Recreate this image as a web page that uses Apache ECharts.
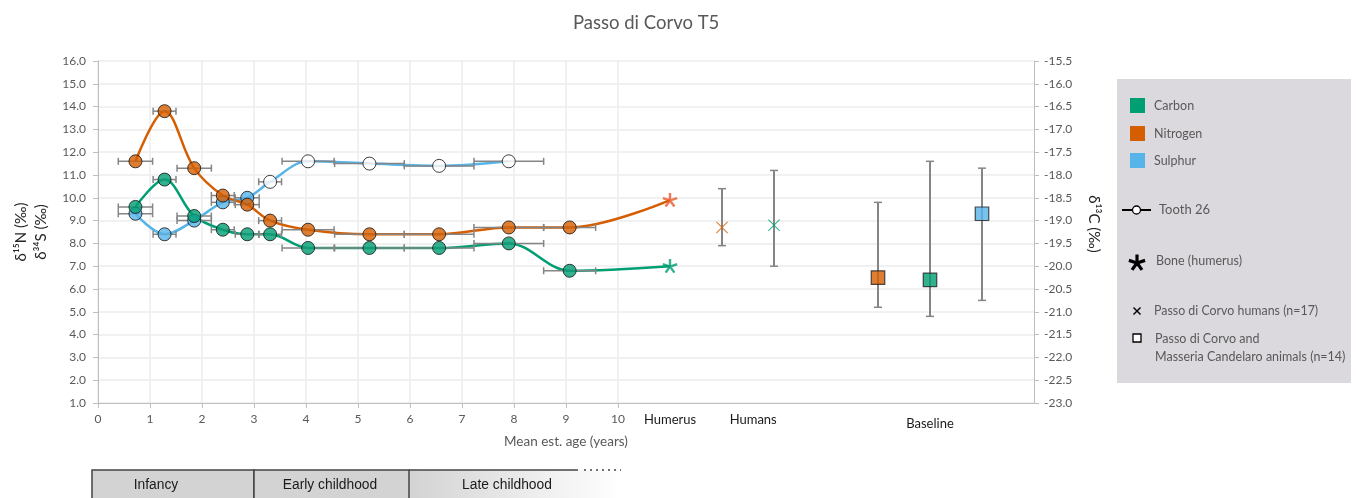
<!DOCTYPE html>
<html><head><meta charset="utf-8">
<script src="https://cdn.jsdelivr.net/npm/echarts@6/dist/echarts.min.js"></script>
<style>html,body{margin:0;padding:0;background:#fff}#c{width:1356px;height:498px}</style>
</head><body><div id="c"></div>
<script>
// ---- data ----
const ages    = [0.72, 1.28, 1.85, 2.40, 2.87, 3.31, 4.04, 5.22, 6.56, 7.90, 9.07];
const ageErr  = [0.33, 0.22, 0.33, 0.22, 0.23, 0.22, 0.50, 0.67, 0.67, 0.67, 0.50];
const nitrogen = [11.6, 13.8, 11.3, 10.1, 9.7, 9.0, 8.6, 8.4, 8.4, 8.7, 8.7];
const carbon   = [-18.7, -18.1, -18.9, -19.2, -19.3, -19.3, -19.6, -19.6, -19.6, -19.5, -20.1];
const sulphur  = [9.3, 8.4, 9.0, 9.8, 10.0, 10.7, 11.6, 11.5, 11.4, 11.6];
const tooth26From = 5; // sulphur points from this index belong to tooth 26
const humerusX = 11;
const humerusN = 9.9;
const humerusC = -20.0;
// humans: [x, mean, low, high]
const humansN = [12, 8.7, 7.9, 10.4];
const humansC = [13, -19.1, -20.0, -17.9];
// baseline animals: [x, mean, low, high]
const baseN = [15, 6.5, 5.2, 9.8];
const baseC = [16, -20.3, -21.1, -17.7];
const baseS = [17, 9.3, 5.5, 11.3];
const xLabelValues = [0,1,2,3,4,5,6,7,8,9,10,11,12.6,16];
const xLabelNames = {11:'Humerus', 12.6:'Humans', 16:'Baseline'};
const stages = ['Infancy', 'Early childhood', 'Late childhood'];

// ---- styles ----
const cC = '#009e73', cN = '#d55e00', cS = '#56b4e9', cStarN = '#e8572a';
const grey = '#595959', errCol = '#858585';
const FONT = 'Lato, "Noto Sans", sans-serif';

function armsPolys(arms, len, w, rot, cx, cy) {
  const polys = [];
  for (let k = 0; k < arms; k++) {
    const a = rot + k * 2 * Math.PI / arms;
    const ux = Math.sin(a), uy = -Math.cos(a);
    const px = Math.cos(a), py = Math.sin(a);
    polys.push([[px*w/2, py*w/2], [px*w/2+ux*len, py*w/2+uy*len], [-px*w/2+ux*len, -py*w/2+uy*len], [-px*w/2, -py*w/2]]
      .map(p => [p[0] + cx, p[1] + cy]));
  }
  return polys;
}
function polysToPath(polys) {
  return 'path://' + polys.map(pts => 'M' + pts.map(p => p[0].toFixed(2) + ' ' + p[1].toFixed(2)).join('L') + 'Z').join('');
}
const starSym = polysToPath(armsPolys(5, 10, 3.2, 0, 20, 20));
const crossSym = polysToPath(armsPolys(4, 10, 1.3, Math.PI/4, 20, 20));

function hErr(vals, yIdx) {
  return {
    type: 'custom', yAxisIndex: yIdx, z: 3, silent: true,
    encode: {x: 0, y: 1},
    data: vals.map((v, i) => [ages[i], v, ageErr[i]]),
    renderItem(params, api) {
      const x = api.value(0), y = api.value(1), e = api.value(2);
      const p1 = api.coord([x - e, y]), p2 = api.coord([x + e, y]);
      const st = {stroke: errCol, lineWidth: 1.5};
      return {type: 'group', children: [
        {type: 'line', shape: {x1: p1[0], y1: p1[1], x2: p2[0], y2: p2[1]}, style: st},
        {type: 'line', shape: {x1: p1[0], y1: p1[1]-3.5, x2: p1[0], y2: p1[1]+3.5}, style: st},
        {type: 'line', shape: {x1: p2[0], y1: p2[1]-3.5, x2: p2[0], y2: p2[1]+3.5}, style: st}
      ]};
    }
  };
}
function vErr(rows, yIdx) {
  return {
    type: 'custom', yAxisIndex: yIdx, z: 3, silent: true,
    encode: {x: 0, y: 1},
    data: rows,
    renderItem(params, api) {
      const x = api.value(0);
      const p1 = api.coord([x, api.value(2)]), p2 = api.coord([x, api.value(3)]);
      const st = {stroke: errCol, lineWidth: 2};
      return {type: 'group', children: [
        {type: 'line', shape: {x1: p1[0], y1: p1[1], x2: p2[0], y2: p2[1]}, style: st},
        {type: 'line', shape: {x1: p1[0]-4, y1: p1[1], x2: p1[0]+4, y2: p1[1]}, style: {stroke: errCol, lineWidth: 1.5}},
        {type: 'line', shape: {x1: p2[0]-4, y1: p2[1], x2: p2[0]+4, y2: p2[1]}, style: {stroke: errCol, lineWidth: 1.5}}
      ]};
    }
  };
}
function lineS(vals, extra, col, yIdx) {
  const data = vals.map((v, i) => [ages[i], v]);
  if (extra !== null) data.push([humerusX, extra]);
  return {type: 'line', yAxisIndex: yIdx, z: 2, smooth: 0.35, symbol: 'none', silent: true,
    lineStyle: {color: col, width: 2.5}, data};
}
function dots(vals, col, yIdx, whiteFrom) {
  return {type: 'scatter', yAxisIndex: yIdx, z: 5, silent: true, symbol: 'circle', symbolSize: 13,
    data: vals.map((v, i) => ({value: [ages[i], v],
      itemStyle: {color: (whiteFrom !== undefined && i >= whiteFrom) ? '#ffffff' : col, borderColor: '#111', borderWidth: 1}}))};
}
function star(x, v, col, yIdx) {
  return {type: 'scatter', yAxisIndex: yIdx, z: 5, silent: true, symbol: starSym, symbolSize: 15,
    symbolKeepAspect: true, itemStyle: {color: col}, data: [[x, v]]};
}
function cross(row, col, yIdx) {
  return {type: 'scatter', yAxisIndex: yIdx, z: 5, silent: true, symbol: crossSym, symbolSize: 12,
    itemStyle: {color: col}, data: [[row[0], row[1]]]};
}
function square(row, col, yIdx) {
  return {type: 'scatter', yAxisIndex: yIdx, z: 5, silent: true, symbol: 'rect', symbolSize: 13.5,
    itemStyle: {color: col, borderColor: '#222', borderWidth: 1.2}, data: [[row[0], row[1]]]};
}

const txt = (text, x, y, size) => ({type: 'text', x, y,
  style: {text, fill: grey, font: size + 'px ' + FONT, verticalAlign: 'middle'}});

const legendEls = [
  {type: 'rect', shape: {x: 1117, y: 79, width: 234, height: 304}, style: {fill: '#dbd9de'}},
  {type: 'rect', shape: {x: 1130, y: 98, width: 15, height: 15}, style: {fill: cC}},
  {type: 'rect', shape: {x: 1130, y: 126, width: 15, height: 15}, style: {fill: cN}},
  {type: 'rect', shape: {x: 1130, y: 153, width: 15, height: 15}, style: {fill: cS}},
  txt('Carbon', 1154, 105.5, 12.5),
  txt('Nitrogen', 1154, 133.5, 12.5),
  txt('Sulphur', 1154, 160.5, 12.5),
  {type: 'line', shape: {x1: 1122, y1: 210, x2: 1151, y2: 210}, style: {stroke: '#000', lineWidth: 2}},
  {type: 'circle', shape: {cx: 1136.5, cy: 210, r: 4}, style: {fill: '#fff', stroke: '#000', lineWidth: 1.3}},
  txt('Tooth 26', 1159, 210, 13),
  ...armsPolys(5, 8.5, 3.2, 0, 1137, 263).map(p => ({type: 'polygon', shape: {points: p}, style: {fill: '#000'}})),
  txt('Bone (humerus)', 1156, 261, 12.5),
  ...armsPolys(4, 5, 1.4, Math.PI/4, 1137, 311).map(p => ({type: 'polygon', shape: {points: p}, style: {fill: '#000'}})),
  txt('Passo di Corvo humans (n=17)', 1154, 311, 12.4),
  {type: 'rect', shape: {x: 1133, y: 334, width: 8, height: 8}, style: {fill: '#fff', stroke: '#000', lineWidth: 1.3}},
  txt('Passo di Corvo and', 1155, 339, 12.5),
  txt('Masseria Candelaro animals (n=14)', 1155, 357, 12.5)
];
const tlFont = '13.8px "Liberation Sans", Arial, sans-serif';
const tlText = (text, x) => ({type: 'text', x, y: 485.5, style: {text, fill: '#1a1a1a', font: tlFont, align: 'center', verticalAlign: 'middle'}});
const timelineEls = [
  {type: 'rect', shape: {x: 409, y: 470, width: 212, height: 30},
    style: {fill: new echarts.graphic.LinearGradient(0, 0, 1, 0, [{offset: 0, color: '#d3d3d3'}, {offset: 1, color: '#ffffff'}])}},
  {type: 'rect', shape: {x: 92, y: 470, width: 162, height: 32}, style: {fill: '#d3d3d3', stroke: '#444', lineWidth: 1.5}},
  {type: 'rect', shape: {x: 254, y: 470, width: 155, height: 32}, style: {fill: '#d3d3d3', stroke: '#444', lineWidth: 1.5}},
  {type: 'line', shape: {x1: 409, y1: 470, x2: 578, y2: 470}, style: {stroke: '#444', lineWidth: 1.5}},
  {type: 'line', shape: {x1: 584, y1: 470, x2: 621, y2: 470}, style: {stroke: '#444', lineWidth: 1.5, lineDash: [2, 4]}},
  tlText(stages[0], 156), tlText(stages[1], 330), tlText(stages[2], 507)
];

const chart = echarts.init(document.getElementById('c'), null, {renderer: 'canvas'});
chart.setOption({
  animation: false,
  backgroundColor: '#fff',
  title: {text: 'Passo di Corvo T5', left: 568, top: 9,
    textStyle: {fontFamily: FONT, fontSize: 18.5, fontWeight: 'normal', color: grey}},
  grid: {left: 98, top: 61, right: 322, bottom: 95, containLabel: false, outerBoundsMode: 'none'},
  xAxis: {
    type: 'value', min: 0, max: 18, interval: 1,
    name: 'Mean est. age (years)', nameLocation: 'middle', nameGap: 30,
    nameTextStyle: {fontFamily: FONT, fontSize: 13.5, color: grey},
    axisLine: {lineStyle: {color: '#bfbfbf', width: 1}},
    axisTick: {show: true, customValues: [0,1,2,3,4,5,6,7,8,9,10], length: 5, lineStyle: {color: '#bfbfbf'}},
    splitLine: {show: true, lineStyle: {color: '#ececec', width: 1.5}},
    axisLabel: {
      customValues: xLabelValues, margin: 10,
      formatter: v => xLabelNames[v] ? (v === 16 ? '{b|' + xLabelNames[v] + '}' : '{c|' + xLabelNames[v] + '}') : '{n|' + v + '}',
      rich: {
        n: {fontFamily: FONT, fontSize: 12, color: grey},
        c: {fontFamily: FONT, fontSize: 13, color: '#1a1a1a'},
        b: {fontFamily: FONT, fontSize: 13, color: '#1a1a1a', padding: [4, 0, 0, 0]}
      }
    }
  },
  yAxis: [
    {type: 'value', min: 1, max: 16, interval: 1, position: 'left',
      name: 'δ¹⁵N (‰)\nδ³⁴S (‰)', nameLocation: 'middle', nameGap: 42,
      nameTextStyle: {fontFamily: FONT, fontSize: 15, color: '#262626', lineHeight: 20},
      axisLine: {show: true, lineStyle: {color: '#bfbfbf'}},
      axisTick: {show: true, length: 5, lineStyle: {color: '#bfbfbf'}},
      splitLine: {show: true, lineStyle: {color: '#ececec', width: 1.5}},
      axisLabel: {formatter: v => v.toFixed(1), fontFamily: FONT, fontSize: 12, color: grey, margin: 12}},
    {type: 'value', min: -23, max: -15.5, interval: 0.5, position: 'right',
      name: 'δ¹³C (‰)', nameLocation: 'middle', nameGap: 52, nameRotate: -90,
      nameTextStyle: {fontFamily: FONT, fontSize: 15, color: '#262626', padding: [0, 16, 0, 0]},
      axisLine: {show: true, lineStyle: {color: '#bfbfbf'}},
      axisTick: {show: true, length: 5, lineStyle: {color: '#bfbfbf'}},
      splitLine: {show: false},
      axisLabel: {formatter: v => v.toFixed(1), fontFamily: FONT, fontSize: 12, color: grey, margin: 10}}
  ],
  series: [
    lineS(sulphur, null, cS, 0),
    lineS(nitrogen, humerusN, cN, 0),
    lineS(carbon, humerusC, cC, 1),
    hErr(sulphur, 0), hErr(nitrogen, 0), hErr(carbon, 1),
    vErr([humansN, baseN, baseS], 0),
    vErr([humansC, baseC], 1),
    dots(sulphur, cS, 0, tooth26From),
    dots(nitrogen, cN, 0),
    dots(carbon, cC, 1),
    star(humerusX, humerusN, cStarN, 0),
    star(humerusX, humerusC, cC, 1),
    cross(humansN, cN, 0), cross(humansC, cC, 1),
    square(baseN, cN, 0), square(baseC, cC, 1), square(baseS, cS, 0)
  ],
  graphic: legendEls.concat(timelineEls)
});
</script></body></html>
